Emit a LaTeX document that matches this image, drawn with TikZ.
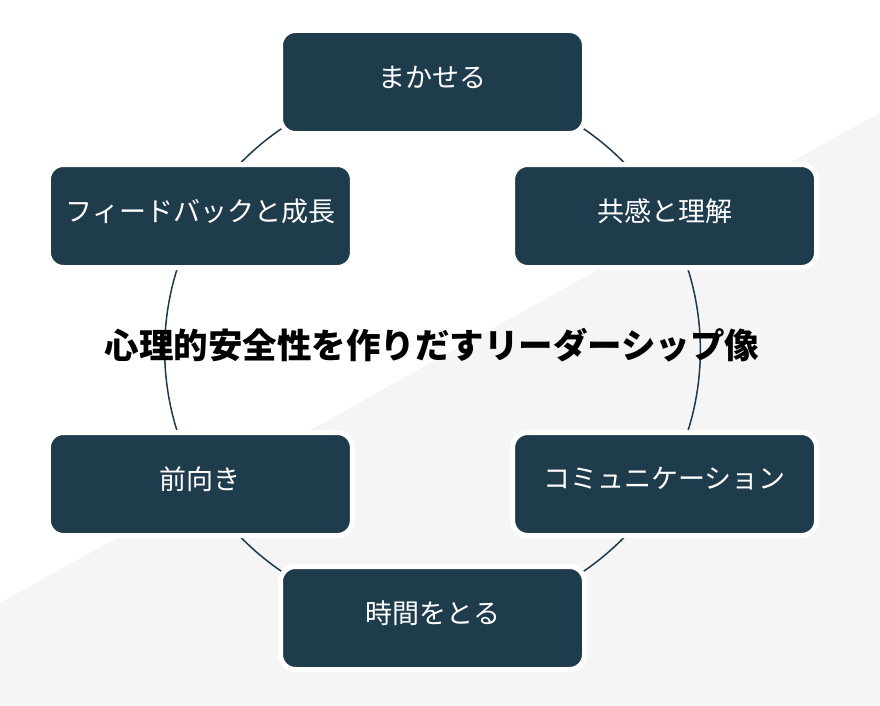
\documentclass[tikz,border=0pt]{standalone}
\usepackage{fontspec}
\newfontfamily\jp{Noto Sans CJK JP}
\definecolor{boxfill}{HTML}{1F3C4D}
\definecolor{ringcol}{HTML}{1E3A4A}
\definecolor{bggray}{HTML}{F5F5F5}
\begin{document}
\begin{tikzpicture}[x=1pt,y=-1pt,
  stepbox/.style={draw=white, line width=5pt, fill=boxfill, rounded corners=15pt,
    minimum width=304pt, minimum height=103pt, inner sep=0pt},
  boxtext/.style={text=white, font=\jp\fontsize{27}{32}\selectfont, inner sep=0pt},
  titletext/.style={text=black, font=\jp\bfseries\fontsize{34.5}{40}\selectfont, inner sep=0pt},
  ring/.style={draw=ringcol, line width=1.5pt, looseness=0.912}
]
\useasboundingbox (0,0) rectangle (880,706);
\fill[white] (0,0) rectangle (880,706);
\fill[bggray] (880,112.6) -- (880,706) -- (0,706) -- (0,603) -- cycle;

% node positions on circle of radius 268 around (432.5,350)
\coordinate (ctr) at (432.5,350);
\path (432.5,82) coordinate (p1)
      (664.6,216) coordinate (p2)
      (664.6,484) coordinate (p3)
      (432.5,618) coordinate (p4)
      (200.4,484) coordinate (p5)
      (200.4,216) coordinate (p6);

% ring connectors (behind boxes)
\draw[ring] (p1) to[out=0,in=120] (p2);
\draw[ring] (p2) to[out=-60,in=60] (p3);
\draw[ring] (p3) to[out=-120,in=0] (p4);
\draw[ring] (p4) to[out=180,in=-60] (p5);
\draw[ring] (p5) to[out=120,in=-120] (p6);
\draw[ring] (p6) to[out=60,in=180] (p1);

\node[titletext] (title) at (432,345) {心理的安全性を作りだすリーダーシップ像};

\node[stepbox] (b1) at (p1) {};
\node[stepbox] (b2) at (p2) {};
\node[stepbox] (b3) at (p3) {};
\node[stepbox] (b4) at (p4) {};
\node[stepbox] (b5) at (p5) {};
\node[stepbox] (b6) at (p6) {};

\node[boxtext] (t1) at ([yshift=5pt]b1.center) {まかせる};
\node[boxtext] (t2) at ([yshift=5pt]b2.center) {共感と理解};
\node[boxtext] (t3) at ([yshift=5pt]b3.center) {コミュニケーション};
\node[boxtext] (t4) at ([yshift=5pt]b4.center) {時間をとる};
\node[boxtext] (t5) at ([yshift=5pt]b5.center) {前向き};
\node[boxtext] (t6) at ([yshift=5pt]b6.center) {フィードバックと成長};
\end{tikzpicture}
\end{document}
